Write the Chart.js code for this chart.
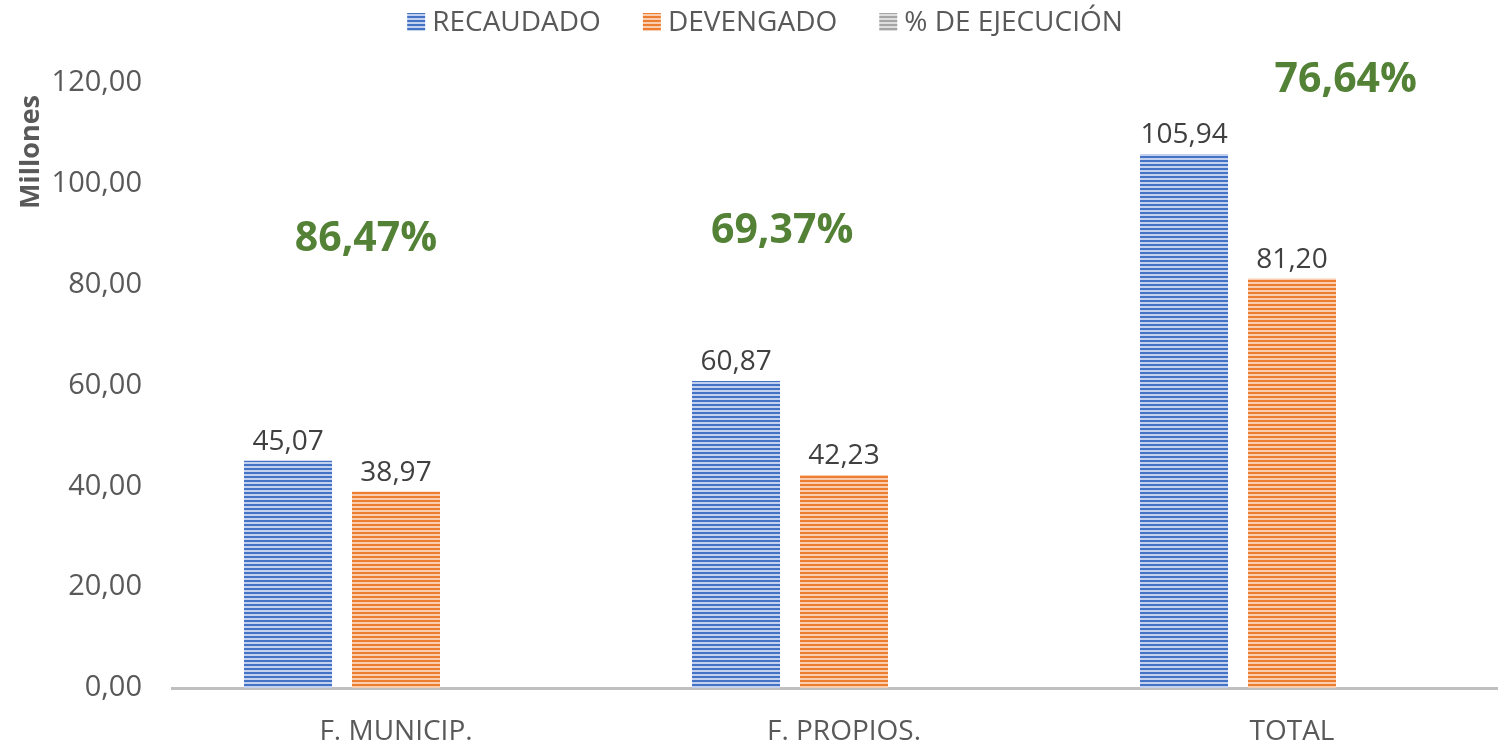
<!DOCTYPE html>
<html>
<head>
<meta charset="utf-8">
<script src="https://cdn.jsdelivr.net/npm/chart.js@4.4.0/dist/chart.umd.min.js"></script>
<style>
  html, body { margin: 0; padding: 0; background: #fff; overflow: hidden; }
  #wrap { position: relative; width: 1516px; height: 745px; }
</style>
</head>
<body>
<div id="wrap"><canvas id="chart"></canvas></div>
<script>
// ── data ────────────────────────────────────────────
const CATEGORIES   = ['F. MUNICIP.', 'F. PROPIOS.', 'TOTAL'];
const SERIES_NAMES = ['RECAUDADO', 'DEVENGADO', '% DE EJECUCIÓN'];
const RECAUDADO    = [45.07, 60.87, 105.94];
const DEVENGADO    = [38.97, 42.23, 81.20];
const EJECUCION    = [86.47, 69.37, 76.64];
const Y_TICKS      = [0, 20, 40, 60, 80, 100, 120];
const Y_TITLE      = 'Millones';

// where the % labels are placed (dx in category widths, y in axis units)
const PCT_LABEL_POS = [
    { dx: -0.067, y: 89.0 },
    { dx: -0.138, y: 90.6 },
    { dx:  0.120, y: 120.6 }
];

const FONT = "'Open Sans', sans-serif";

function fmt(v) { return Number(v).toFixed(2).replace('.', ','); }

// horizontal-stripe fill like the Excel pattern
function stripes(base, light) {
    const c = document.createElement('canvas');
    c.width = 4; c.height = 4;
    const g = c.getContext('2d');
    g.fillStyle = light; g.fillRect(0, 0, 4, 4);
    g.fillStyle = base;  g.fillRect(0, 0, 4, 2);
    return g.createPattern(c, 'repeat');
}

const FILLS = [
    stripes('#4472c4', '#c3d1ee'),
    stripes('#ed7d31', '#f9cdb0'),
    stripes('#a5a5a5', '#dedede')
];

// ── legend at the top + rotated y title ─────────────
const topLegend = {
    id: 'topLegend',
    afterDraw(chart) {
        const ctx = chart.ctx;
        ctx.save();
        ctx.font = `28px ${FONT}`;
        const box = 18, gap = 7, itemGap = 42;
        const widths = SERIES_NAMES.map(t => box + gap + ctx.measureText(t).width);
        const total = widths.reduce((a, b) => a + b, 0) + itemGap * (widths.length - 1);
        let x = 765 - total / 2;
        const cy = 22;
        SERIES_NAMES.forEach((t, i) => {
            ctx.fillStyle = FILLS[i];
            ctx.fillRect(x, cy - box / 2, box, box);
            ctx.fillStyle = '#595959';
            ctx.textBaseline = 'middle';
            ctx.textAlign = 'left';
            ctx.fillText(t, x + box + gap, cy + 1);
            x += widths[i] + itemGap;
        });

        // y axis title, top-aligned a little below the 120 tick
        ctx.font = `bold 27px ${FONT}`;
        ctx.fillStyle = '#595959';
        ctx.translate(31, chart.chartArea.top + 12);
        ctx.rotate(-Math.PI / 2);
        ctx.textAlign = 'right';
        ctx.textBaseline = 'middle';
        ctx.fillText(Y_TITLE, 0, 0);
        ctx.restore();
    }
};

// ── value labels + % de ejecución labels ────────────
const valueLabels = {
    id: 'valueLabels',
    afterDatasetsDraw(chart) {
        const ctx = chart.ctx;
        ctx.save();
        ctx.textAlign = 'center';
        ctx.textBaseline = 'alphabetic';
        ctx.font = `28px ${FONT}`;
        ctx.fillStyle = '#404040';
        [0, 1].forEach(di => {
            const meta = chart.getDatasetMeta(di);
            meta.data.forEach((bar, i) => {
                ctx.fillText(fmt(chart.data.datasets[di].data[i]), bar.x, bar.y - 11);
            });
        });

        const xs = chart.scales.x, ys = chart.scales.y;
        const catW = (xs.right - xs.left) / CATEGORIES.length;
        ctx.font = `bold 41px ${FONT}`;
        ctx.fillStyle = '#538135';
        ctx.textBaseline = 'middle';
        EJECUCION.forEach((p, i) => {
            const pos = PCT_LABEL_POS[i];
            const x = xs.getPixelForValue(i) + pos.dx * catW;
            const y = ys.getPixelForValue(pos.y);
            ctx.fillText(fmt(p) + '%', x, y);
        });
        ctx.restore();
    }
};

const barOpts = { categoryPercentage: 0.723, barPercentage: 0.815, borderWidth: 0 };

new Chart(document.getElementById('chart'), {
    type: 'bar',
    data: {
        labels: CATEGORIES,
        datasets: [
            { label: SERIES_NAMES[0], data: RECAUDADO, backgroundColor: FILLS[0], yAxisID: 'y', ...barOpts },
            { label: SERIES_NAMES[1], data: DEVENGADO, backgroundColor: FILLS[1], yAxisID: 'y', ...barOpts },
            // percentages ride on their own hidden axis, so no bar shows
            { label: SERIES_NAMES[2], data: EJECUCION, backgroundColor: FILLS[2], yAxisID: 'yPct', ...barOpts }
        ]
    },
    options: {
        responsive: true,
        maintainAspectRatio: false,
        animation: false,
        layout: { padding: { top: 83, right: 0, bottom: 0, left: 0 } },
        plugins: {
            legend: { display: false },
            tooltip: { enabled: false }
        },
        scales: {
            x: {
                afterFit: s => { s.height = 57; },
                grid: { display: false },
                border: { display: true, color: '#bfbfbf', width: 3 },
                ticks: { color: '#595959', font: { family: FONT, size: 28 }, padding: 19 }
            },
            y: {
                min: 0, max: 120,
                afterBuildTicks: s => { s.ticks = Y_TICKS.map(v => ({ value: v })); },
                afterFit: s => { s.width = 172; },
                grid: { display: false, drawTicks: false },
                border: { display: false },
                ticks: {
                    color: '#595959',
                    font: { family: FONT, size: 29 },
                    padding: 30,
                    callback: v => fmt(v)
                }
            },
            yPct: { display: false, min: 0, max: 1e6 }
        }
    },
    plugins: [topLegend, valueLabels]
});
</script>
</body>
</html>
